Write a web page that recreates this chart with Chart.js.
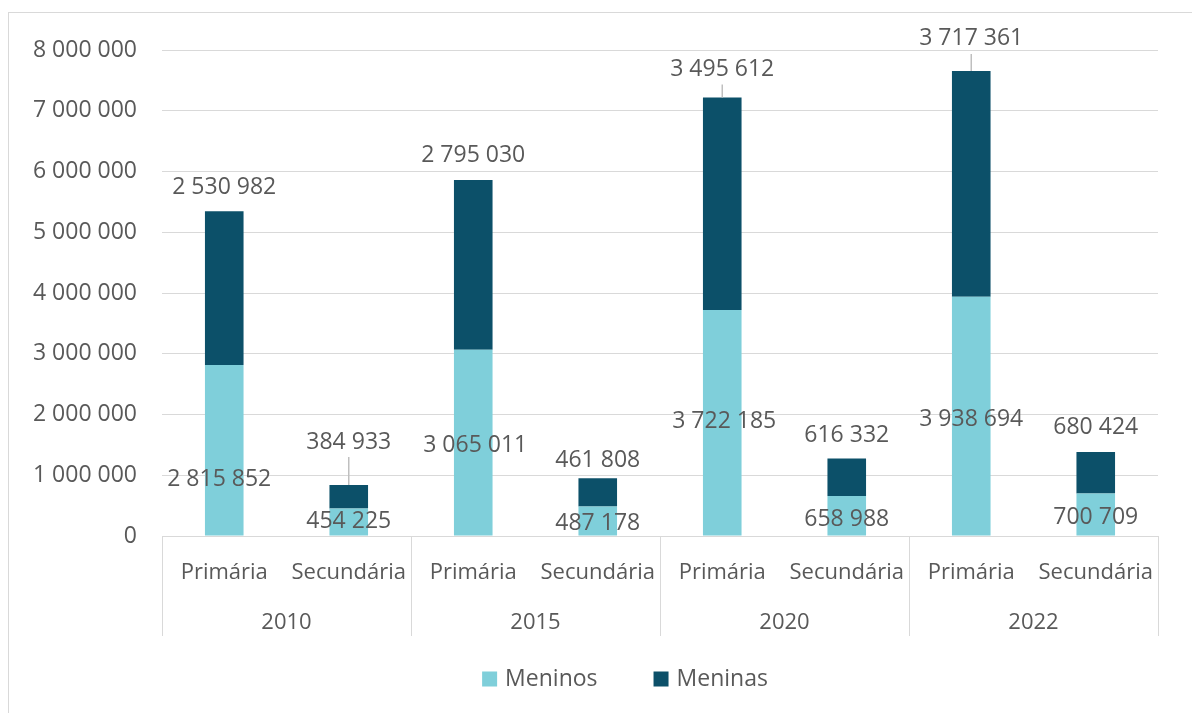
<!DOCTYPE html>
<html>
<head>
<meta charset="utf-8">
<script src="https://cdn.jsdelivr.net/npm/chart.js@4"></script>
<style>
  body { margin: 0; background: #fff; }
  #frame { position: absolute; left: 8px; top: 12px; width: 1200px; height: 720px; border: 1px solid #d9d9d9; }
  #myChart { position: absolute; left: 0; top: 0; }
</style>
</head>
<body>
<div id="frame"></div>
<canvas id="myChart" width="1192" height="713"></canvas>
<script>
/*-----data-----*/
var categories = ['Primária', 'Secundária', 'Primária', 'Secundária', 'Primária', 'Secundária', 'Primária', 'Secundária'];
var years = ['2010', '2015', '2020', '2022'];
var meninos = [2815852, 454225, 3065011, 487178, 3722185, 658988, 3938694, 700709];
var meninas = [2530982, 384933, 2795030, 461808, 3495612, 616332, 3717361, 680424];
var yTicks = [0, 1000000, 2000000, 3000000, 4000000, 5000000, 6000000, 7000000, 8000000];

/*-----label placement (pixels)-----*/
var meninosLift = [56, 14, 90, 12, 114, 16, 116, 18];
var meninosShift = [-5, 0, 2, 0, 2, 0, 0, 0];
var meninasGap = [24, 43, 25, 18, 28, 23, 32, 25];
var meninasLeader = [false, true, false, false, true, false, true, false];

var textColor = '#595959';
var lineColor = '#d9d9d9';
var fontFamily = "'Open Sans', 'Noto Sans', sans-serif";

function fmt(v) {
    return String(v).replace(/\B(?=(\d{3})+(?!\d))/g, ' ');
}

/*------labels, separators and legend plugin-------*/
var extras = {
    id: 'extras',
    afterDatasetsDraw: function(chart) {
        var ctx = chart.ctx;
        var area = chart.chartArea;
        var x = chart.scales.x;
        var x2 = chart.scales.x2;
        var metaBoys = chart.getDatasetMeta(0);
        var metaGirls = chart.getDatasetMeta(1);
        ctx.save();
        ctx.font = '23px ' + fontFamily;
        ctx.fillStyle = textColor;
        ctx.textAlign = 'center';
        ctx.textBaseline = 'middle';
        for (var i = 0; i < meninos.length; i++) {
            var b = metaBoys.data[i];
            ctx.fillText(fmt(meninos[i]), b.x + meninosShift[i], b.base - meninosLift[i]);
            var g = metaGirls.data[i];
            var ly = g.y - meninasGap[i];
            ctx.fillText(fmt(meninas[i]), g.x, ly);
            if (meninasLeader[i]) {
                ctx.strokeStyle = '#bfbfbf';
                ctx.lineWidth = 1.5;
                ctx.beginPath();
                ctx.moveTo(g.x, ly + 15);
                ctx.lineTo(g.x, g.y);
                ctx.stroke();
            }
        }
        // year separators
        var step = (x.right - x.left) / categories.length;
        ctx.strokeStyle = lineColor;
        ctx.lineWidth = 1;
        for (var k = 0; k <= years.length; k++) {
            var px = Math.round(x.left + k * step * 2) + 0.5;
            ctx.beginPath();
            ctx.moveTo(px, area.bottom);
            ctx.lineTo(px, x2.bottom);
            ctx.stroke();
        }
        // legend
        var ds = chart.data.datasets;
        ctx.font = '23px ' + fontFamily;
        ctx.textAlign = 'left';
        var box = 15, gapText = 8, gapItem = 56;
        var total = 0;
        for (var d = 0; d < ds.length; d++) {
            total += box + gapText + ctx.measureText(ds[d].label).width;
        }
        total += gapItem * (ds.length - 1);
        var lx = chart.width / 2 + 29 - total / 2;
        var lyL = x2.bottom + 43;
        for (var d2 = 0; d2 < ds.length; d2++) {
            ctx.fillStyle = ds[d2].backgroundColor;
            ctx.fillRect(lx, lyL - box / 2, box, box);
            ctx.fillStyle = textColor;
            ctx.fillText(ds[d2].label, lx + box + gapText, lyL);
            lx += box + gapText + ctx.measureText(ds[d2].label).width + gapItem;
        }
        ctx.restore();
    }
};

var ctx = document.getElementById('myChart').getContext('2d');
var myChart = new Chart(ctx, {
    type: 'bar',
    data: {
        labels: categories,
        datasets: [{
            label: 'Meninos',
            data: meninos,
            backgroundColor: '#7fcfda',
            barPercentage: 0.31,
            categoryPercentage: 1
        }, {
            label: 'Meninas',
            data: meninas,
            backgroundColor: '#0c5069',
            barPercentage: 0.31,
            categoryPercentage: 1
        }]
    },
    options: {
        responsive: false,
        animation: false,
        layout: { padding: { top: 50, right: 34, left: 0, bottom: 77 } },
        plugins: {
            tooltip: { enabled: false },
            legend: { display: false }
        },
        scales: {
            x: {
                stacked: true,
                grid: { display: false },
                border: { color: lineColor },
                ticks: { color: textColor, font: { family: fontFamily, size: 22 }, padding: 16, maxRotation: 0 },
                afterFit: function(s) { s.height = 50; }
            },
            x2: {
                type: 'category',
                labels: years,
                position: 'bottom',
                offset: true,
                grid: { display: false },
                border: { display: false },
                ticks: { color: textColor, font: { family: fontFamily, size: 22 }, padding: 16 },
                afterFit: function(s) { s.height = 50; }
            },
            y: {
                stacked: true,
                min: 0,
                max: 8000000,
                grid: { color: lineColor, drawTicks: false },
                border: { display: false },
                afterBuildTicks: function(s) {
                    s.ticks = yTicks.map(function(v) { return { value: v }; });
                },
                ticks: {
                    color: textColor,
                    font: { family: fontFamily, size: 23 },
                    padding: 25,
                    callback: function(v) { return fmt(v); }
                },
                afterFit: function(s) { s.width = 162; }
            }
        }
    },
    plugins: [extras]
});
</script>
</body>
</html>
